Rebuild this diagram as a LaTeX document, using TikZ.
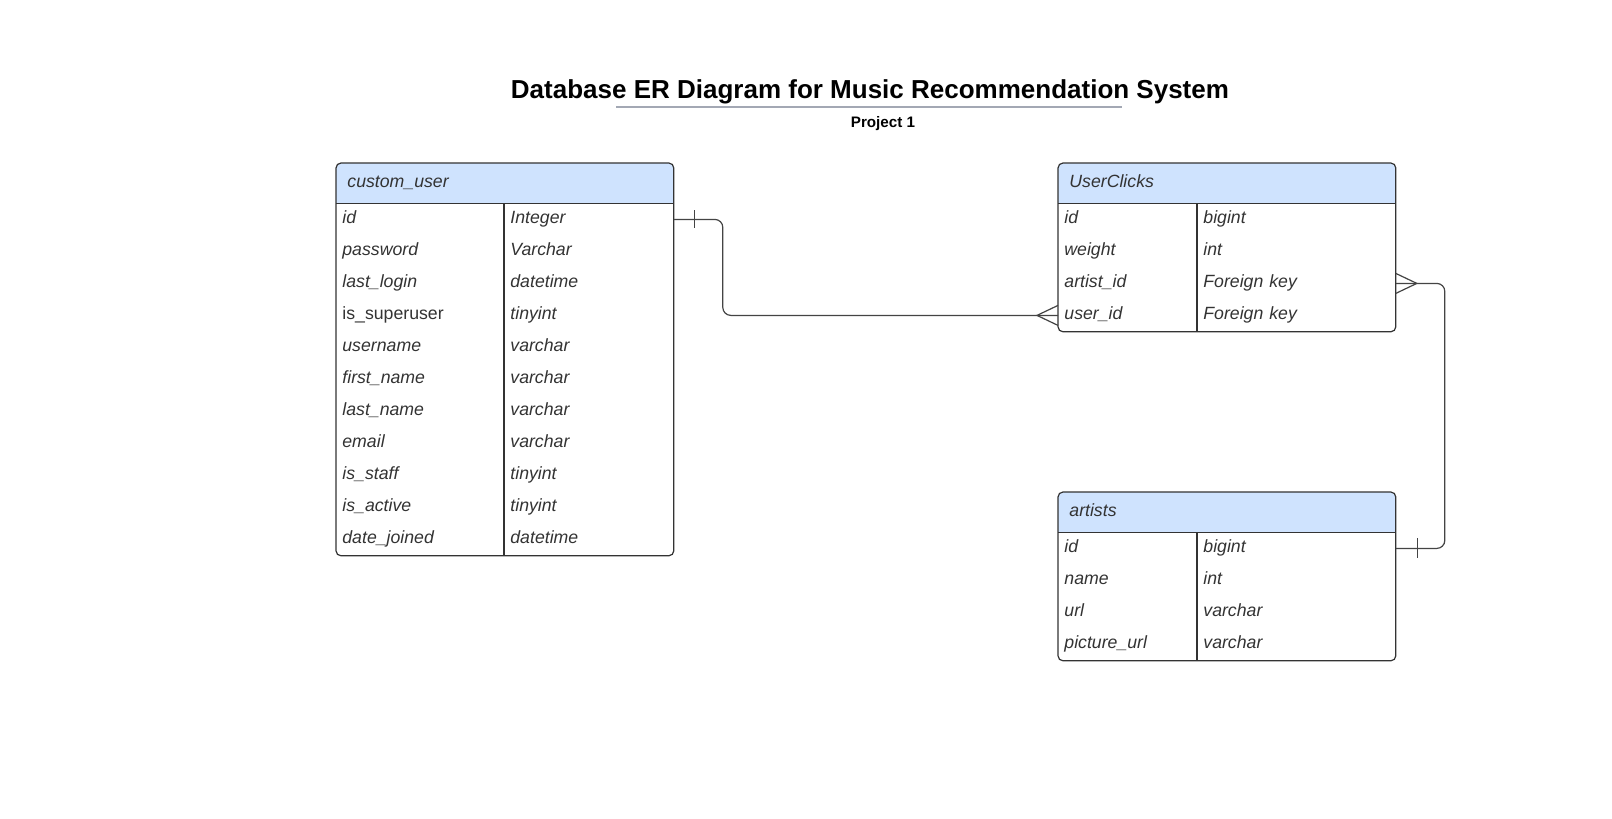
\documentclass[tikz,border=0pt]{standalone}
\usepackage{fontspec}
\setmainfont{Liberation Sans}
\usetikzlibrary{positioning,calc,backgrounds}
\definecolor{headblue}{HTML}{CFE3FE}
\definecolor{inkgray}{HTML}{333333}
\definecolor{wiregray}{HTML}{444444}
\definecolor{rulegray}{HTML}{A3A8B4}
\newcommand{\cellfont}{\fontsize{8.85}{10}\selectfont\itshape}
\tikzset{
  titletext/.style={anchor=base, inner sep=0pt, font=\fontsize{13}{15}\selectfont\bfseries, text=black},
  subtext/.style={anchor=base, inner sep=0pt, font=\fontsize{7.6}{9}\selectfont\bfseries, text=black},
  titlerule/.style={line width=1pt, rulegray},
  headcell/.style={anchor=north west, minimum height=20pt, inner xsep=5.5pt, inner ysep=0pt, text height=6.2pt, text depth=2.2pt, text width=#1, align=left, font=\cellfont, text=inkgray},
  fieldcell/.style={anchor=north west, minimum height=16pt, inner xsep=3pt, inner ysep=0pt, text height=6.2pt, text depth=2.2pt, text width=#1, align=left, font=\cellfont, text=inkgray},
  tableframe/.style={draw=inkgray, line width=0.6pt, rounded corners=2.5pt},
  tablerule/.style={draw=inkgray, line width=0.6pt},
  relline/.style={draw=wiregray, line width=0.6pt}
}
\begin{document}
\begin{tikzpicture}[x=0.5pt, y=-0.5pt]
  \useasboundingbox (0,0) rectangle (1612,819);
  % title
  \node[titletext] (title) at (870,98) {Database ER Diagram for Music Recommendation System};
  \node[subtext] (sub) at (883,127) {Project 1};
  \draw[titlerule] (616,107) -- (1122,107);

  % custom_user
  \node[headcell=157.5pt] (cu-h) at (336,163) {custom\_user};
  \foreach \fname/\ftype [count=\i] in {id/Integer, password/Varchar, last\_login/datetime, {\upshape is\_superuser}/tinyint, username/varchar, first\_name/varchar, last\_name/varchar, email/varchar, is\_staff/tinyint, is\_active/tinyint, date\_joined/datetime}{
    \node[fieldcell=78pt] (cu-f\i) at (336,{203+32*(\i-1)}) {\fname};
    \node[fieldcell=78.5pt] (cu-t\i) at (504,{203+32*(\i-1)}) {\ftype};
  }
  \draw[tableframe] (cu-h.north west) rectangle (cu-t11.south east);
  \draw[tablerule] (cu-h.south west) -- (cu-h.south east);
  \draw[tablerule] (cu-t1.north west) -- (cu-t11.south west);

  % UserClicks
  \node[headcell=157.5pt] (uc-h) at (1058,163) {UserClicks};
  \foreach \fname/\ftype [count=\i] in {id/bigint, weight/int, artist\_id/Foreign key, user\_id/Foreign key}{
    \node[fieldcell=63.5pt] (uc-f\i) at (1058,{203+32*(\i-1)}) {\fname};
    \node[fieldcell=93pt] (uc-t\i) at (1197,{203+32*(\i-1)}) {\ftype};
  }
  \draw[tableframe] (uc-h.north west) rectangle (uc-t4.south east);
  \draw[tablerule] (uc-h.south west) -- (uc-h.south east);
  \draw[tablerule] (uc-t1.north west) -- (uc-t4.south west);

  % artists
  \node[headcell=157.5pt] (ar-h) at (1058,492) {artists};
  \foreach \fname/\ftype [count=\i] in {id/bigint, name/int, url/varchar, picture\_url/varchar}{
    \node[fieldcell=63.5pt] (ar-f\i) at (1058,{532+32*(\i-1)}) {\fname};
    \node[fieldcell=93pt] (ar-t\i) at (1197,{532+32*(\i-1)}) {\ftype};
  }
  \draw[tableframe] (ar-h.north west) rectangle (ar-t4.south east);
  \draw[tablerule] (ar-h.south west) -- (ar-h.south east);
  \draw[tablerule] (ar-t1.north west) -- (ar-t4.south west);

  % header fills behind the text
  \begin{scope}[on background layer]
    \fill[white] (0,0) rectangle (1612,819);
    \begin{scope}
      \clip[rounded corners=2.5pt] (cu-h.north west) rectangle (cu-t11.south east);
      \fill[headblue] (cu-h.north west) rectangle (cu-h.south east);
    \end{scope}
    \begin{scope}
      \clip[rounded corners=2.5pt] (uc-h.north west) rectangle (uc-t4.south east);
      \fill[headblue] (uc-h.north west) rectangle (uc-h.south east);
    \end{scope}
    \begin{scope}
      \clip[rounded corners=2.5pt] (ar-h.north west) rectangle (ar-t4.south east);
      \fill[headblue] (ar-h.north west) rectangle (ar-h.south east);
    \end{scope}
  \end{scope}

  % relations
  \draw[relline, rounded corners=4pt] (cu-t1.east) -- ++(49,0) |- (uc-f4.west);
  \draw[relline] ($(cu-t1.east)+(21,-9)$) -- ++(0,18);
  \draw[relline] ($(uc-f4.west)+(0,-10)$) -- ($(uc-f4.west)+(-21,0)$) -- ($(uc-f4.west)+(0,10)$);

  \draw[relline, rounded corners=4pt] (uc-t3.east) -- ++(49,0) |- (ar-t1.east);
  \draw[relline] ($(uc-t3.east)+(0,-10)$) -- ($(uc-t3.east)+(21,0)$) -- ($(uc-t3.east)+(0,10)$);
  \draw[relline] ($(ar-t1.east)+(22,-10)$) -- ++(0,20);
\end{tikzpicture}
\end{document}
